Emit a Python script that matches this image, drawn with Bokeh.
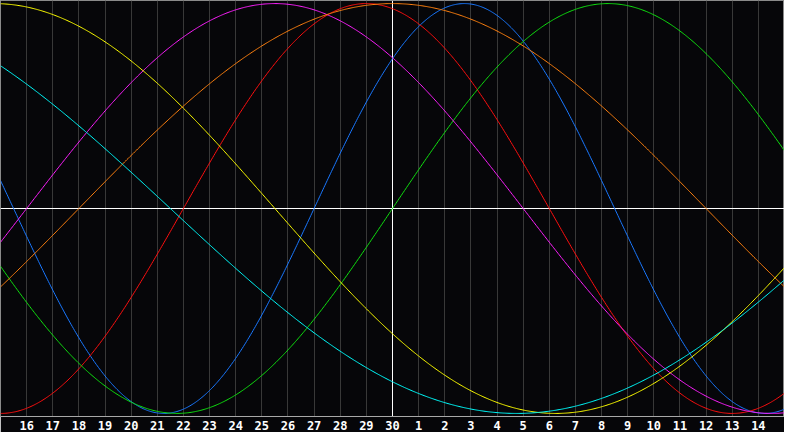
import numpy as np
from bokeh.plotting import figure
from bokeh.models import Range1d, FixedTicker, Span
from bokeh.embed import file_html
from bokeh.resources import INLINE

# Day labels along the bottom (day offset -14 .. 14 relative to the centre day "30")
day_offsets = list(range(-14, 15))
day_labels = ["16", "17", "18", "19", "20", "21", "22", "23", "24", "25", "26", "27", "28", "29",
              "30", "1", "2", "3", "4", "5", "6", "7", "8", "9", "10", "11", "12", "13", "14"]

# Cycles: period (days) and days into the cycle on the centre day
cycle_names = ["physical", "emotional", "intellectual", "intuitive", "aesthetic", "awareness", "spiritual"]
cycle_periods = [23, 28, 33, 38, 43, 48, 53]
cycle_phase_on_centre = [3, 8, 0, 14, 26, 12, 35]
cycle_colors = ["#1a78ff", "#ff1010", "#10e010", "#ff20ff", "#ffff00", "#ff8010", "#00ffff"]

BG = "#060609"

p = figure(width=784, height=432,
           x_range=Range1d(-15, 15), y_range=Range1d(-1.015, 1.015),
           y_axis_location=None,
           min_border_left=0, min_border_right=0, min_border_top=0, min_border_bottom=0,
           background_fill_color=BG, border_fill_color=BG,
           outline_line_color="#8a8a8a", outline_line_width=1,
           output_backend="svg", toolbar_location=None)

ax = p.xaxis[0]
ax.ticker = FixedTicker(ticks=day_offsets)
ax.major_label_overrides = {d: lab for d, lab in zip(day_offsets, day_labels)}
ax.major_tick_line_color = None
ax.minor_tick_line_color = None
ax.major_tick_out = 0
ax.major_tick_in = 0
ax.axis_line_color = "#a8a8a8"
ax.axis_line_width = 1
ax.major_label_text_color = "white"
ax.major_label_text_font = "DejaVu Sans Mono"
ax.major_label_text_font_style = "bold"
ax.major_label_text_font_size = "12px"
ax.major_label_standoff = 4

p.xgrid.ticker = FixedTicker(ticks=day_offsets)
p.xgrid.grid_line_color = "#383838"
p.xgrid.grid_line_width = 1
p.ygrid.visible = False

p.add_layout(Span(location=0, dimension="height", line_color="white", line_width=1, level="underlay"))
p.add_layout(Span(location=0, dimension="width", line_color="white", line_width=1, level="underlay"))

xs = np.linspace(-15, 15, 721)
for name, per, ph, col in zip(cycle_names, cycle_periods, cycle_phase_on_centre, cycle_colors):
    ys = np.sin(2 * np.pi * (xs + ph) / per)
    p.line(xs, ys, line_color=col, line_width=1)

open("out.html", "w").write(file_html(p, INLINE))
